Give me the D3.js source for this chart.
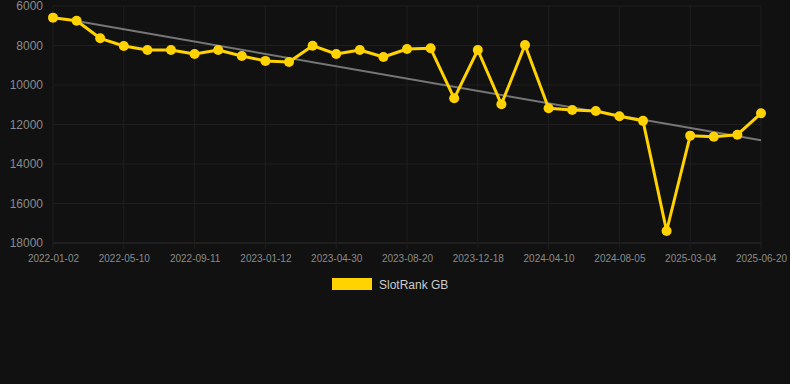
<!DOCTYPE html>
<html><head><meta charset="utf-8">
<script src="https://cdn.jsdelivr.net/npm/d3@7"></script>
<style>html,body{margin:0;padding:0;background:#111111;}svg{display:block;}</style>
</head><body>
<svg id="c" width="790" height="384"></svg>
<script>
const categories = ["2022-01-02","2022-02-07","2022-03-22","2022-05-10","2022-06-18","2022-07-30","2022-09-11","2022-10-20","2022-12-01","2023-01-12","2023-02-24","2023-03-18","2023-04-30","2023-06-08","2023-07-14","2023-08-20","2023-09-28","2023-11-05","2023-12-18","2024-01-27","2024-03-02","2024-04-10","2024-05-22","2024-06-28","2024-08-05","2024-10-14","2024-12-20","2025-03-04","2025-04-08","2025-05-14","2025-06-20"];
const rankValues = [6590,6744,7636,8025,8228,8228,8430,8228,8532,8780,8835,8010,8430,8228,8582,8177,8142,10673,8228,10977,7975,11180,11266,11316,11586,11815,17392,12565,12616,12515,11433];
const trendCategories = ["2022-02-07","2025-06-20"];
const trendValues = [6765,12800];
const yTicks = [6000,8000,10000,12000,14000,16000,18000];
const xTickLabels = categories.filter((d,i)=>i%3===0);
const seriesName = "SlotRank GB";

const svg = d3.select("#c");
const font = "Liberation Sans, Arial, Helvetica, sans-serif";
const x = d3.scalePoint().domain(categories).range([53,761]);
const y = d3.scaleLinear().domain([6000,18000]).range([6,243]);

// grid
const g = svg.append("g");
g.selectAll(".hg").data(yTicks).join("line")
  .attr("x1",53).attr("x2",761).attr("y1",d=>y(d)).attr("y2",d=>y(d))
  .attr("stroke",d=>d===18000?"#2e2e2e":"#1f1f1f").attr("stroke-width",1);
g.selectAll(".vg").data(xTickLabels).join("line")
  .attr("x1",d=>x(d)).attr("x2",d=>x(d)).attr("y1",6).attr("y2",249)
  .attr("stroke","#1f1f1f").attr("stroke-width",1);

// y axis
const yAxis = d3.axisLeft(y).tickValues(yTicks).tickSize(0).tickPadding(10).tickFormat(d3.format("d"));
const ya = svg.append("g").attr("transform","translate(53,0)").call(yAxis);
ya.select(".domain").remove();
ya.selectAll("text").attr("fill","#8a8a8a").style("font-family",font).style("font-size","12px");

// x axis
const xAxis = d3.axisBottom(x).tickValues(xTickLabels).tickSize(0).tickPadding(12);
const xa = svg.append("g").attr("transform","translate(0,243)").call(xAxis);
xa.select(".domain").remove();
xa.selectAll("text").attr("fill","#8a8a8a").style("font-family",font).style("font-size","10px");

// trend
svg.append("path")
  .datum(trendCategories.map((c,i)=>[c,trendValues[i]]))
  .attr("d",d3.line().x(d=>x(d[0])).y(d=>y(d[1])))
  .attr("fill","none").attr("stroke","#767676").attr("stroke-width",2);

// series
const color = "#FFD200";
const pts = categories.map((c,i)=>[c,rankValues[i]]);
svg.append("path").datum(pts)
  .attr("d",d3.line().x(d=>x(d[0])).y(d=>y(d[1])))
  .attr("fill","none").attr("stroke",color).attr("stroke-width",3).attr("stroke-linejoin","round");
svg.selectAll(".pt").data(pts).join("circle")
  .attr("cx",d=>x(d[0])).attr("cy",d=>y(d[1])).attr("r",5).attr("fill",color);

// legend
svg.append("rect").attr("x",332).attr("y",278).attr("width",40).attr("height",12).attr("fill",color);
svg.append("text").attr("x",379).attr("y",289).text(seriesName)
  .attr("fill","#cccccc").style("font-family",font).style("font-size","12px");
</script>
</body></html>
